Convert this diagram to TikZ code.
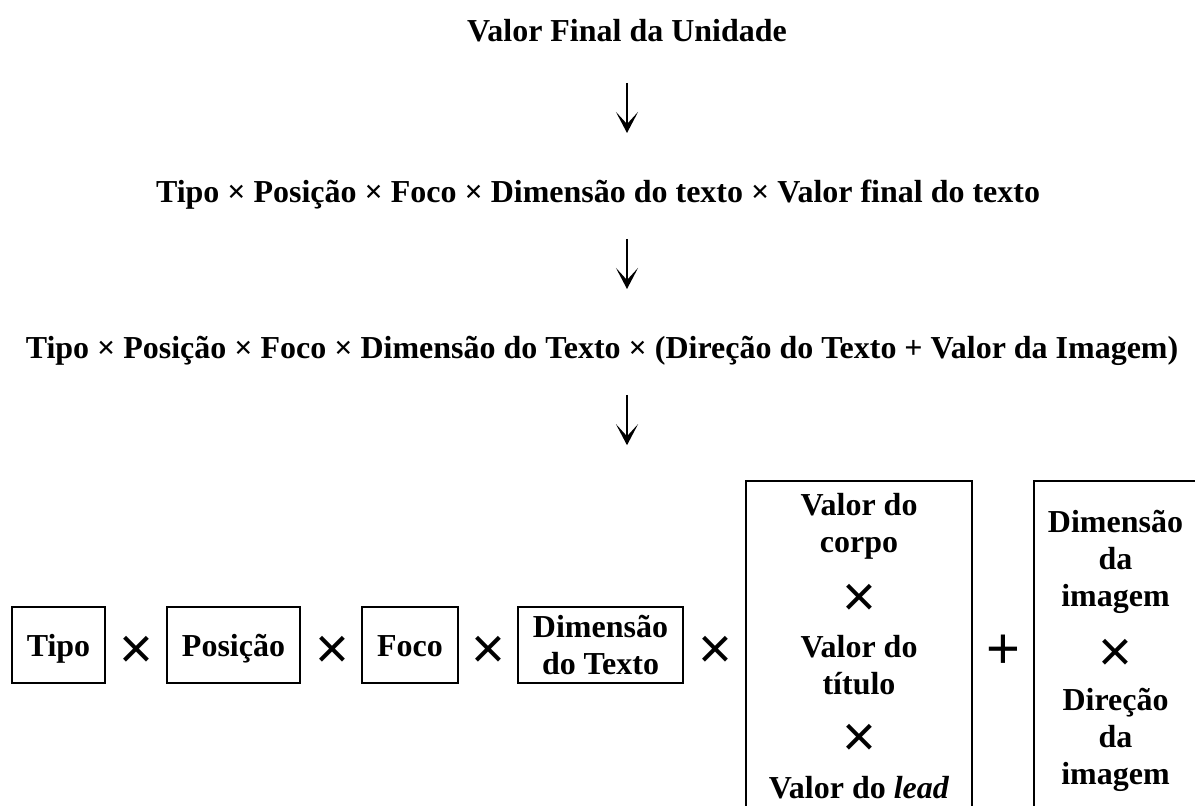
\documentclass[tikz,border=0pt]{standalone}
\usepackage{fontspec}
\setmainfont{Liberation Serif}
\newfontfamily\opfamily{Liberation Sans}
\usepackage{tikz}
\usetikzlibrary{arrows.meta,positioning,calc}

\begin{document}
\begin{tikzpicture}[
  >={Stealth[length=4.2mm,width=4.4mm,inset=2.4mm]},
  every node/.style={font=\fontsize{18.2}{21}\selectfont\bfseries},
  line/.style={inner sep=0pt, anchor=base},
  box/.style={draw, line width=0.9pt, inner xsep=0.3cm, inner ysep=0.1cm,
              minimum height=1.52cm, align=center},
  onebox/.style={box, text height=0.45cm, text depth=0cm},
  bigbox/.style={draw, line width=0.9pt, minimum height=6.56cm},
  inbox/.style={inner sep=0pt, align=center},
  op/.style={inner sep=0pt, font=\opfamily\fontsize{33}{33}\selectfont},
  arr/.style={->, line width=1.3pt},
]
\useasboundingbox (0,0) rectangle (23.9,-16.12);

% formula lines
\node[line] (unidade) at (12.54, -0.84) {Valor Final da Unidade};
\node[line] (texto) at (11.96, -4.06)
  {Tipo × Posição × Foco × Dimensão do texto × Valor final do texto};
\node[line] (imagem) at (12.04, -7.18)
  {Tipo × Posição × Foco × Dimensão do Texto × (Direção do Texto + Valor da Imagem)};

% bottom row
\node[onebox] (tipo) at (1.17, -12.9) {Tipo};
\node[onebox] (posicao) at (4.67, -12.9) {Posição};
\node[onebox] (foco) at (8.2, -12.9) {Foco};
\node[box] (dimtexto) at (12.01, -12.9) {Dimensão\\do Texto};
\node[bigbox, minimum width=4.52cm] (corpo) at (17.18, -12.9) {};
\node[bigbox, minimum width=3.26cm] (dimimagem) at (22.31, -12.9) {};

\node[op] (x1) at (2.72, -13.04) {×};
\node[op] (x2) at (6.64, -13.04) {×};
\node[op] (x3) at (9.76, -13.04) {×};
\node[op] (x4) at (14.3, -13.04) {×};
\node[op] (soma) at (20.06, -13.04) {+};

% text valor
\node[inbox, anchor=north] (vcorpo) at (17.18, -9.86) {Valor do\\corpo};
\node[op] (bx1) at (17.18, -12.0) {×};
\node[inbox, anchor=north] (vtitulo) at (17.18, -12.7) {Valor do\\título};
\node[op] (bx2) at (17.18, -14.8) {×};
\node[line] (vlead) at (17.18, -15.96) {Valor do \textit{lead}};

% image value
\node[inbox, anchor=north] (dimg) at (22.31, -10.2) {Dimensão\\da\\imagem};
\node[op] (dx) at (22.31, -13.1) {×};
\node[inbox, anchor=north] (dirimg) at (22.31, -13.76) {Direção\\da\\imagem};

% arrows
\draw[arr] ($(unidade.base)+(0,-0.82)$) -- ($(unidade.base |- texto.base)+(0,1.40)$);
\draw[arr] ($(unidade.base |- texto.base)+(0,-0.72)$) -- ($(unidade.base |- imagem.base)+(0,1.40)$);
\draw[arr] ($(unidade.base |- imagem.base)+(0,-0.72)$) -- ($(unidade.base |- corpo.north)+(0,0.70)$);
\end{tikzpicture}
\end{document}
